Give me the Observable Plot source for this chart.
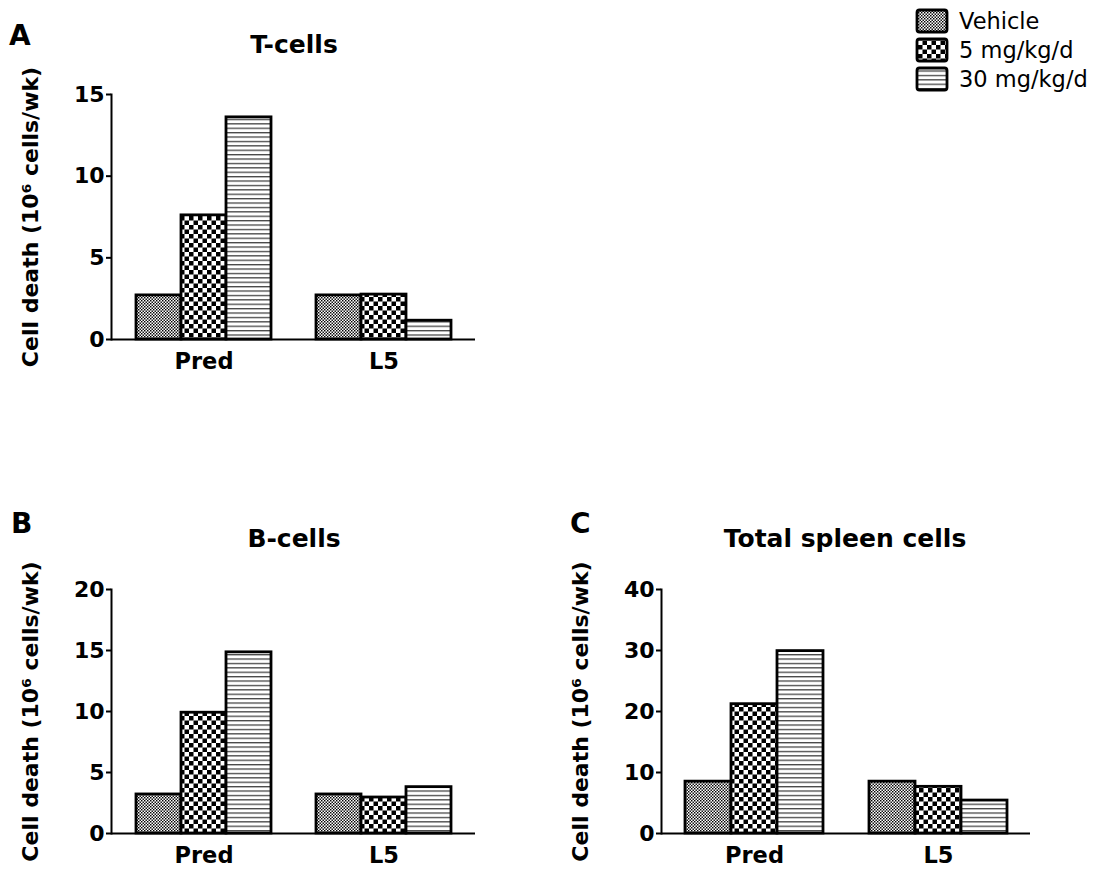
<!DOCTYPE html>
<html><head><meta charset="utf-8">
<script src="https://cdn.jsdelivr.net/npm/d3@7"></script>
<script src="https://cdn.jsdelivr.net/npm/@observablehq/plot@0.6"></script>
<style>
body{margin:0;background:#fff;}
#page{position:relative;width:1096px;height:869px;overflow:hidden;background:#fff;}
#page > svg{position:absolute;}
</style></head><body><div id="page"></div>
<script>
// ---- data ----
const groups = ["Pred", "L5"];
const treatments = ["Vehicle", "5 mg/kg/d", "30 mg/kg/d"];
const tCellsPred = [2.7, 7.6, 13.6];
const tCellsL5 = [2.7, 2.75, 1.15];
const bCellsPred = [3.2, 9.9, 14.85];
const bCellsL5 = [3.2, 2.95, 3.8];
const spleenPred = [8.5, 21.2, 29.9];
const spleenL5 = [8.5, 7.65, 5.4];
const tTicks = [0, 5, 10, 15];
const bTicks = [0, 5, 10, 15, 20];
const sTicks = [0, 10, 20, 30, 40];
const yLabel = "Cell death (10\u2076 cells/wk)";
const panelLetters = ["A", "B", "C"];
const panelTitles = ["T-cells", "B-cells", "Total spleen cells"];

const page = document.getElementById("page");
const FONT = "DejaVu Sans";

// ---- overlay (patterns, letters, titles, legend) ----
const ov = d3.create("svg").attr("width", 1096).attr("height", 869)
  .style("left", "0px").style("top", "0px").style("pointer-events", "none")
  .style("z-index", 5);
const defs = ov.append("defs");
// Vehicle: fine dotted checker
let p = defs.append("pattern").attr("id", "pat0").attr("patternUnits", "userSpaceOnUse").attr("width", 3).attr("height", 3);
p.append("rect").attr("width", 3).attr("height", 3).attr("fill", "#fff");
p.append("rect").attr("width", 1.45).attr("height", 1.45).attr("fill", "#000");
p.append("rect").attr("x", 1.5).attr("y", 1.5).attr("width", 1.45).attr("height", 1.45).attr("fill", "#000");
// 5 mg: coarse checker
p = defs.append("pattern").attr("id", "pat1").attr("patternUnits", "userSpaceOnUse").attr("width", 9).attr("height", 9);
p.append("rect").attr("width", 9).attr("height", 9).attr("fill", "#fff");
p.append("rect").attr("width", 4.5).attr("height", 4.5).attr("fill", "#000");
p.append("rect").attr("x", 4.5).attr("y", 4.5).attr("width", 4.5).attr("height", 4.5).attr("fill", "#000");
// 30 mg: horizontal lines
p = defs.append("pattern").attr("id", "pat2").attr("patternUnits", "userSpaceOnUse").attr("width", 10).attr("height", 4.4);
p.append("rect").attr("width", 10).attr("height", 4.4).attr("fill", "#fff");
p.append("rect").attr("width", 10).attr("height", 1.3).attr("fill", "#444");

const patternUrls = treatments.map((t, i) => `url(#pat${i})`);

// ---- panels ----
const gapKey = "\u00a0gap";
const xDomain = [...treatments.map(t => groups[0] + "|" + t), gapKey, ...treatments.map(t => groups[1] + "|" + t)];

function rowsFor(pred, l5) {
  const rows = [];
  groups.forEach((g, gi) => {
    const vals = gi === 0 ? pred : l5;
    treatments.forEach((t, ti) => rows.push({group: g, treatment: t, key: g + "|" + t, value: vals[ti]}));
  });
  return rows;
}

function panel(pred, l5, ticks, pos) {
  const svg = Plot.plot({
    width: pos.width, height: pos.height,
    marginLeft: 111, marginRight: pos.marginRight, marginTop: pos.marginTop, marginBottom: pos.marginBottom,
    x: {domain: xDomain, paddingInner: 0, paddingOuter: 0.49, label: null},
    y: {domain: [0, ticks[ticks.length - 1]], label: null},
    color: {domain: treatments, range: patternUrls},
    style: {fontFamily: FONT, fontWeight: "bold", background: "transparent", color: "#000", overflow: "visible"},
    marks: [
      Plot.barY(rowsFor(pred, l5), {x: "key", y: "value", fill: "treatment", stroke: "#000", strokeWidth: 2.8}),
      Plot.frame({anchor: "left", strokeWidth: 2}),
      Plot.ruleY([0], {strokeWidth: 2}),
      Plot.axisX({ticks: groups.map(g => g + "|" + treatments[1]), tickFormat: d => d.split("|")[0],
        tickSize: 0, tickPadding: 14, fontSize: 22.5, label: null}),
      Plot.axisY({ticks, tickSize: 5, tickPadding: 2, strokeWidth: 2, fontSize: 22,
        label: yLabel, labelAnchor: "center", labelOffset: 89, labelArrow: "none"})
    ]
  });
  svg.style.position = "absolute";
  svg.style.left = pos.left + "px";
  svg.style.top = pos.top + "px";
  page.appendChild(svg);
}

panel(tCellsPred, tCellsL5, tTicks, {left: 0, top: 0, width: 490, height: 400, marginRight: 15, marginTop: 94, marginBottom: 61});
panel(bCellsPred, bCellsL5, bTicks, {left: 0, top: 500, width: 490, height: 369, marginRight: 15, marginTop: 89, marginBottom: 36});
panel(spleenPred, spleenL5, sTicks, {left: 550, top: 500, width: 500, height: 369, marginRight: 20, marginTop: 89, marginBottom: 36});

// letters and titles
const letterPos = [[9, 45], [11, 533], [570, 533]];
const titlePos = [[294, 53], [294, 547], [845, 547]];
panelLetters.forEach((L, i) => {
  ov.append("text").attr("x", letterPos[i][0]).attr("y", letterPos[i][1])
    .attr("font-family", FONT).attr("font-weight", "bold").attr("font-size", 28).text(L);
  ov.append("text").attr("x", titlePos[i][0]).attr("y", titlePos[i][1]).attr("text-anchor", "middle")
    .attr("font-family", FONT).attr("font-weight", "bold").attr("font-size", 25).text(panelTitles[i]);
});

// legend
treatments.forEach((t, i) => {
  const y = 10 + i * 29;
  ov.append("rect").attr("x", 917).attr("y", y).attr("width", 30).attr("height", 22).attr("rx", 2.5)
    .attr("fill", patternUrls[i]).attr("stroke", "#000").attr("stroke-width", 2.8);
  ov.append("text").attr("x", 959).attr("y", y + 18.5).attr("font-family", FONT).attr("font-size", 22.5)
    .attr("fill", "#000").text(t);
});

page.appendChild(ov.node());
</script></body></html>
